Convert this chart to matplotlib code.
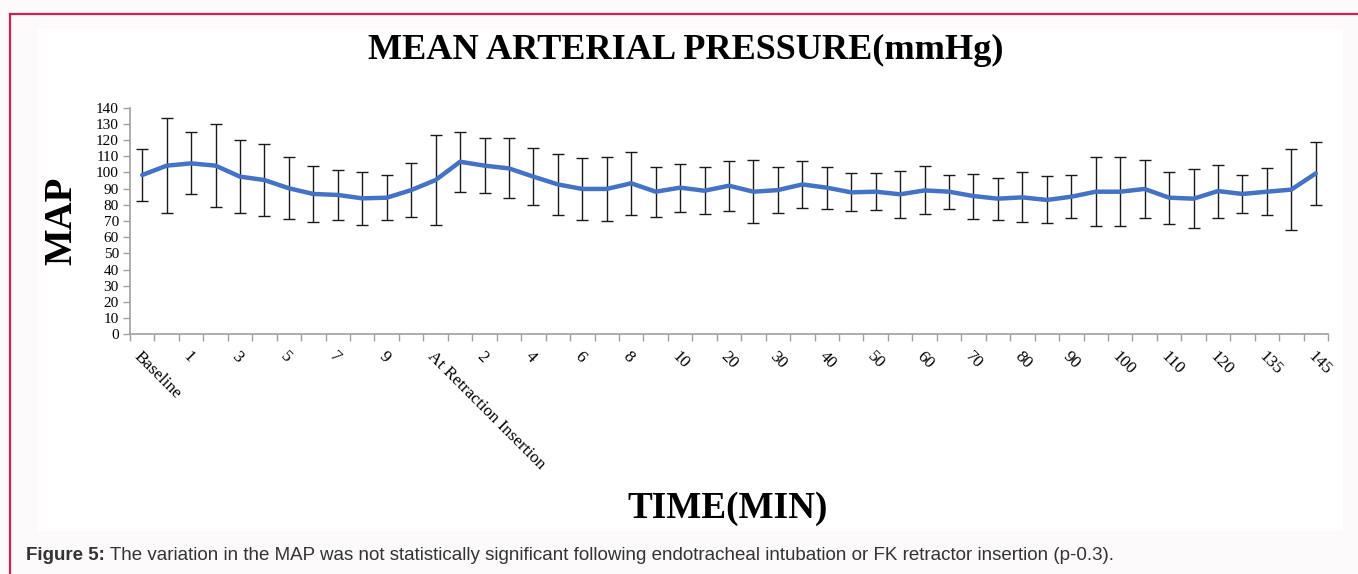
import numpy as np
import matplotlib.pyplot as plt
from matplotlib.lines import Line2D
from matplotlib.patches import Rectangle

# time points (every other one is labelled on the axis)
time_labels = (["Baseline", "At Intubation"] + [str(i) for i in range(1, 11)]
               + ["At Retraction Insertion"] + [str(i) for i in range(1, 11)]
               + [str(i) for i in range(15, 121, 5)] + ["130", "135", "140", "145"])

map_mean = [98.4, 104.2, 105.6, 104.2, 97.4, 95.3, 90.2, 86.7, 86.1, 84.0,
            84.4, 89.1, 95.3, 106.6, 104.2, 102.5, 97.4, 92.6, 89.8, 89.8,
            93.3, 88.1, 90.6, 88.7, 91.8, 88.1, 89.1, 92.6, 90.6, 87.7,
            88.1, 86.5, 88.9, 88.1, 85.4, 83.8, 84.6, 83.0, 85.0, 88.1,
            88.1, 89.8, 84.4, 83.8, 88.5, 86.7, 88.1, 89.4, 99.4]
map_sd = [16.0, 29.3, 19.2, 25.7, 22.7, 22.3, 19.1, 17.5, 15.7, 16.4,
          13.9, 16.8, 27.8, 18.5, 17.2, 18.5, 17.5, 18.7, 19.0, 20.0,
          19.3, 15.5, 14.8, 14.5, 15.5, 19.5, 14.2, 14.5, 13.0, 11.8,
          11.5, 14.4, 14.8, 10.5, 13.9, 13.0, 15.4, 14.5, 13.3, 21.4,
          21.4, 17.8, 16.0, 18.2, 16.4, 11.5, 14.5, 24.8, 19.6]

W, H = 1358, 574
fig = plt.figure(figsize=(W / 100, H / 100), dpi=100, facecolor="#fcfafb")

# white chart area and the red page border
fig.patches.append(Rectangle((38 / W, 1 - 531 / H), (1343 - 38) / W, (531 - 29) / H,
                             transform=fig.transFigure, facecolor="white",
                             edgecolor="none", zorder=-5))
border = "#c8254f"
fig.lines.append(Line2D([10 / W, 1], [1 - 14 / H, 1 - 14 / H], transform=fig.transFigure,
                        color=border, lw=1.6))
fig.lines.append(Line2D([10 / W, 10 / W], [0, 1 - 14 / H], transform=fig.transFigure,
                        color=border, lw=1.6))

ax = fig.add_axes([130 / W, 1 - 334.3 / H, (1328 - 130) / W, (334.3 - 107.7) / H])
ax.set_facecolor("none")
ax.set_zorder(2)

x = np.arange(len(map_mean))
ax.errorbar(x, map_mean, yerr=map_sd, fmt="none", ecolor="#1a1a1a", elinewidth=1.0,
            capsize=4.5, capthick=1.0, zorder=2)
ax.plot(x, map_mean, color="#4472c4", lw=3.2, solid_joinstyle="round",
        solid_capstyle="round", zorder=3)

ax.set_xlim(-0.5, len(map_mean) - 0.5)
ax.set_ylim(0, 140)
ax.set_yticks(np.arange(0, 141, 10))

serif = "Liberation Serif"
ax.set_xticks(x[::2])
ax.set_xticklabels(time_labels[::2], rotation=-45, ha="left", va="top",
                   rotation_mode="anchor", fontsize=12.4, family=serif)
ax.set_xticks(np.arange(-0.5, len(map_mean)), minor=True)
ax.tick_params(axis="x", which="major", length=0, pad=10)
ax.tick_params(axis="x", which="minor", length=5, color="#a0a0a0", width=1)
ax.tick_params(axis="y", length=5, color="#a0a0a0", width=1, pad=3)
for lab in ax.get_yticklabels():
    lab.set_family(serif)
    lab.set_fontsize(11)

for side in ["top", "right"]:
    ax.spines[side].set_visible(False)
for side in ["left", "bottom"]:
    ax.spines[side].set_color("#a0a0a0")
    ax.spines[side].set_linewidth(1.2)

fig.text(686 / W, 1 - 50 / H, "MEAN ARTERIAL PRESSURE(mmHg)", ha="center", va="center",
         family=serif, weight="bold", fontsize=26.1)
fig.text(62 / W, 1 - 221 / H, "MAP", ha="center", va="center", rotation=90,
         family=serif, weight="bold", fontsize=28)
fig.text(728 / W, 1 - 509 / H, "TIME(MIN)", ha="center", va="center",
         family=serif, weight="bold", fontsize=26.7)

cap1 = fig.text(26 / W, 1 - 556 / H, "Figure 5:", ha="left", va="center",
                family="Liberation Sans", weight="bold", fontsize=13.5, color="#333333")
ax.annotate(" The variation in the MAP was not statistically significant following "
            "endotracheal intubation or FK retractor insertion (p-0.3).",
            xy=(1, 0), xycoords=cap1, ha="left", va="bottom",
            family="Liberation Sans", fontsize=13.5, color="#333333", annotation_clip=False)

fig.savefig("out.png", dpi=100, facecolor=fig.get_facecolor())
